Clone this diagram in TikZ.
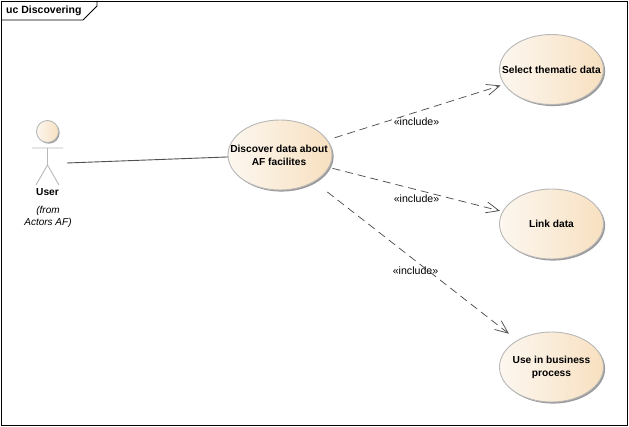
\documentclass[tikz,border=0pt]{standalone}
\usepackage{fontspec}
\setmainfont{Liberation Sans}
\usetikzlibrary{arrows.meta,shapes.geometric,shadows}
\definecolor{ucleft}{HTML}{FCF7F0}
\definecolor{ucright}{HTML}{F8E0C0}
\definecolor{ucborder}{HTML}{B8B8B8}
\definecolor{ucshadow}{HTML}{9A9A9A}
\definecolor{conn}{HTML}{505050}
\tikzset{
  px/.style={x=1pt,y=-1pt},
  boldtext/.style={font=\bfseries\fontsize{10.2}{13}\selectfont},
  usecase/.style={ellipse,draw=ucborder,line width=0.9pt,left color=ucleft,right color=ucright,
    minimum width=104pt,minimum height=70pt,inner xsep=-20pt,inner ysep=-8pt,outer sep=0pt,align=center,
    boldtext,
    general shadow={fill=ucshadow,shadow xshift=1.6pt,shadow yshift=-1.6pt}},
  actorpart/.style={draw=ucborder,line width=0.9pt},
  inc/.style={draw=conn,line width=0.75pt,dash pattern=on 8pt off 5pt,
    -{Straight Barb[length=13pt,width=11pt,line width=0.75pt,sep=0pt]}},
  inclabel/.style={font=\fontsize{10.6}{12}\selectfont,inner sep=0.5pt},
  actortext/.style={font=\fontsize{10}{12.3}\selectfont\itshape,align=center,inner sep=0pt},
}
\begin{document}
\begin{tikzpicture}[px]
\useasboundingbox (0,0) rectangle (629,427);
% frame
\draw[black,line width=0.9pt] (1,1) rectangle (627,425.5);
\draw[black,line width=0.9pt] (1,20) -- (83,20) -- (97,6) -- (97,1);
\node[anchor=west,inner sep=0pt,font=\bfseries\fontsize{10.5}{13}\selectfont] (frametitle) at (6,10.5) {uc Discovering};
% use cases
\node[usecase] (discover) at (280,155) {\hspace*{-2pt}Discover data about\\\hspace*{-2pt}AF facilites};
\node[usecase] (select) at (551.5,69.5) {Select thematic data};
\node[usecase] (link) at (551.5,224) {Link data};
\node[usecase] (business) at (551.5,367) {Use in business\\process};
% actor
\draw[actorpart] (47.5,148) -- (47.5,165) (32,148) -- (63,148) (36,185) -- (47.5,165) -- (59,185);
\node[circle,draw=ucborder,line width=0.9pt,left color=ucleft,right color=ucright,minimum size=22pt,inner sep=0pt,
  general shadow={fill=ucshadow,shadow xshift=1.2pt,shadow yshift=-1.2pt}] (head) at (47.5,131.5) {};
\node[boldtext,inner sep=0pt] (user) at (47.5,192.3) {User};
\node[actortext] (from) at (48,217) {(from\\Actors AF)};
\coordinate (actorport) at (67,163);
% connectors
\draw[conn,line width=0.9pt] (actorport) -- (discover);
\draw[inc,shorten <=8pt,shorten >=4pt] (discover) -- (select);
\draw[inc,shorten <=4pt,shorten >=3pt] (discover) -- (link);
\draw[inc,shorten <=17pt,shorten >=11pt] (discover) -- (business);
% labels
\node[inclabel] (l1) at (416.5,122) {«include»};
\node[inclabel] (l2) at (416.5,199) {«include»};
\node[inclabel] (l3) at (415.5,271) {«include»};
\end{tikzpicture}
\end{document}
